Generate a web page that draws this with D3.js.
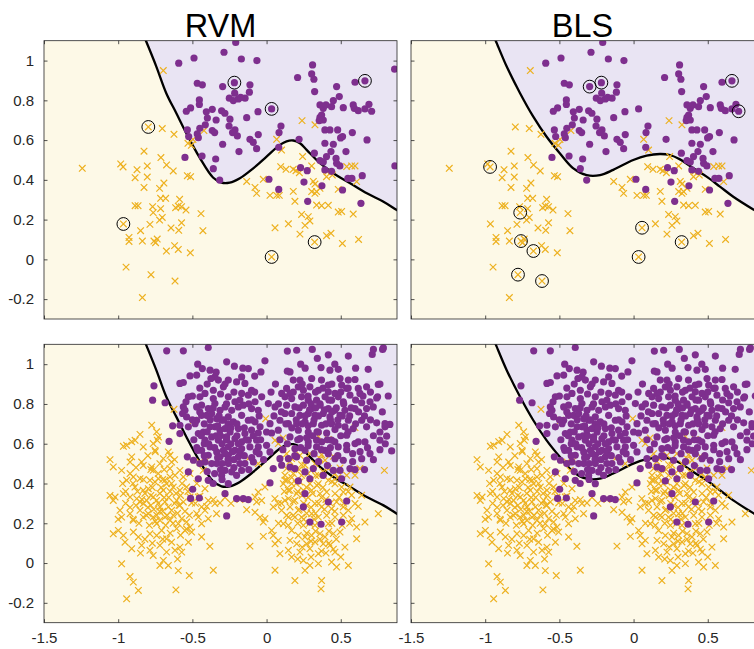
<!DOCTYPE html>
<html><head><meta charset="utf-8">
<script src="https://cdn.jsdelivr.net/npm/d3@7"></script>
<style>body{margin:0;background:#fff}svg{display:block}</style>
</head><body>
<svg id="c" width="754" height="649"></svg>
<script>
const titles = ["RVM", "BLS"];
const xTicks = [-1.5, -1, -0.5, 0, 0.5];
const yTicks = [-0.2, 0, 0.2, 0.4, 0.6, 0.8, 1];

// training set, class 0 (orange crosses)
const trainOrange = [
[-0.696,0.950],[-0.797,0.666],[-0.703,0.658],[-0.624,0.629],[-0.826,0.544],[-0.712,0.512],[-1.242,0.458],[-0.983,0.480],[-0.967,0.465],[-0.873,0.451],
[-0.804,0.470],[-0.674,0.475],[-0.629,0.445],[-0.886,0.411],[-0.804,0.414],[-0.530,0.584],[-0.496,0.603],[-0.507,0.574],[-0.422,0.648],[-0.826,0.362],
[-0.721,0.357],[-0.692,0.384],[-0.534,0.421],[-0.512,0.416],[-0.714,0.307],[-0.680,0.307],[-0.586,0.302],[-0.886,0.270],[-0.866,0.270],[-0.768,0.265],
[-0.714,0.255],[-0.613,0.260],[-0.595,0.268],[-0.573,0.265],[-0.543,0.248],[-0.764,0.235],[-0.703,0.211],[-0.721,0.198],[-0.442,0.230],[-0.965,0.178],
[-0.786,0.176],[-0.573,0.184],[-0.644,0.158],[-0.592,0.146],[-0.849,0.144],[-0.429,0.144],[-0.927,0.110],[-0.927,0.090],[-0.837,0.092],[-0.759,0.092],
[-0.737,0.102],[-0.748,0.084],[-0.620,0.069],[-0.595,0.050],[-0.675,0.042],[-0.514,0.033],[-0.947,-0.039],[-0.779,-0.077],[-0.617,-0.109],[-0.837,-0.192],
[0.239,0.698],[0.326,0.677],[0.068,0.604],[0.101,0.550],[0.243,0.517],[0.095,0.466],[0.131,0.453],[0.180,0.453],[0.198,0.446],[0.221,0.436],
[0.304,0.470],[-0.134,0.392],[-0.022,0.403],[-0.078,0.362],[-0.067,0.332],[0.023,0.322],[0.068,0.322],[0.086,0.322],[0.180,0.342],[0.191,0.292],
[0.315,0.392],[0.326,0.379],[0.304,0.341],[0.326,0.332],[0.337,0.341],[0.360,0.357],[0.404,0.416],[0.443,0.424],[0.409,0.441],[0.540,0.467],
[0.573,0.470],[0.596,0.470],[0.607,0.391],[0.483,0.352],[0.337,0.273],[0.371,0.270],[0.416,0.272],[0.236,0.226],[0.281,0.215],[0.292,0.193],
[0.259,0.171],[0.147,0.179],[0.057,0.159],[0.225,0.127],[0.324,0.087],[0.034,0.012],[0.404,0.119],[0.434,0.131],[0.511,0.080],[0.483,0.238],
[0.506,0.241],[0.584,0.228],[0.620,0.100]
];

// training set, class 1 (purple dots)
const trainPurple = [
[-0.592,0.987],[-0.489,1.013],[-0.467,0.886],[-0.433,0.878],[-0.453,0.802],[-0.453,0.779],[-0.512,0.762],[-0.541,0.745],[-0.366,0.755],[-0.406,0.742],
[-0.399,0.711],[-0.340,0.701],[-0.413,0.677],[-0.450,0.659],[-0.366,0.648],[-0.350,0.638],[-0.534,0.651],[-0.467,0.631],[-0.525,0.618],[-0.460,0.612],
[-0.435,0.520],[-0.343,0.505],[-0.550,0.513],[-0.359,0.456],[-0.316,0.399],
[-0.208,1.091],[-0.287,1.042],[-0.170,1.008],[-0.065,1.000],[0.310,0.978],[0.304,0.933],[0.319,0.906],[0.209,0.915],[-0.217,0.889],[-0.112,0.878],
[-0.296,0.869],[0.324,0.844],[-0.215,0.836],[-0.116,0.841],[-0.251,0.811],[-0.224,0.799],[-0.190,0.807],[-0.145,0.811],[-0.175,0.815],[0.034,0.757],
[-0.058,0.743],[-0.134,0.713],[-0.303,0.747],[-0.281,0.735],[-0.247,0.705],[-0.253,0.671],[-0.213,0.651],[-0.229,0.638],[-0.197,0.621],[-0.112,0.604],
[-0.090,0.589],[-0.067,0.557],[-0.056,0.628],[0.097,0.671],[0.084,0.638],[-0.296,0.579],[-0.186,0.542],[0.219,0.604],[0.082,0.564],[0.016,0.403],
[0.082,0.352],[0.277,0.292],[0.252,0.389],[0.229,0.461],[0.274,0.446],[0.373,0.370],[0.512,0.349],[0.636,0.282],[0.663,0.898],[0.596,0.891],
[0.472,0.869],[0.490,0.819],[0.450,0.799],[0.360,0.777],[0.382,0.760],[0.400,0.777],[0.438,0.768],[0.517,0.763],[0.584,0.777],[0.591,0.760],
[0.618,0.748],[0.663,0.757],[0.690,0.780],[0.708,0.745],[0.863,0.957],[0.360,0.715],[0.371,0.726],[0.382,0.701],[0.355,0.698],[0.393,0.651],
[0.427,0.651],[0.479,0.651],[0.578,0.638],[0.512,0.618],[0.499,0.611],[0.450,0.579],[0.393,0.584],[0.535,0.542],[0.677,0.601],[0.434,0.542],
[0.404,0.517],[0.468,0.508],[0.360,0.497],[0.322,0.534],[0.382,0.490],[0.472,0.483],[0.494,0.470],[0.393,0.450],[0.438,0.443],[0.548,0.407],
[0.575,0.407],[0.645,0.421],[0.865,0.470]
];

// test set, class 0 (orange crosses)
const testOrange = [
[-0.624,0.773],[-0.494,0.718],[-0.774,0.693],[-0.853,0.647],[-0.741,0.660],[-0.729,0.634],[-0.736,0.617],[-0.909,0.610],[-0.886,0.617],[-0.943,0.592],
[-0.965,0.587],[-0.831,0.584],[-0.764,0.601],[-0.752,0.567],[-0.662,0.559],[-0.651,0.542],[-0.696,0.525],[-1.055,0.520],[-1.033,0.483],[-0.909,0.534],
[-0.920,0.508],[-0.842,0.508],[-0.831,0.491],[-0.774,0.483],[-0.764,0.466],[-0.719,0.500],[-0.651,0.475],[-0.640,0.508],[-0.584,0.466],[-0.617,0.441],
[-0.561,0.433],[-0.516,0.450],[-0.977,0.466],[-0.920,0.450],[-0.898,0.433],[-0.943,0.416],[-0.853,0.424],[-0.786,0.416],[-0.752,0.408],[-0.729,0.424],
[-0.685,0.416],[-0.651,0.433],[-0.674,0.399],[-0.629,0.382],[-0.887,0.382],[-0.831,0.366],[-0.797,0.374],[-0.696,0.366],[-0.584,0.366],[-0.539,0.382],
[-1.055,0.340],[-1.021,0.332],[-1.033,0.315],[-0.965,0.349],[-0.920,0.332],[-0.875,0.324],[-0.853,0.307],[-0.831,0.299],[-0.808,0.315],[-0.764,0.332],
[-0.741,0.315],[-0.719,0.282],[-0.685,0.307],[-0.662,0.282],[-0.640,0.265],[-0.606,0.315],[-0.584,0.290],[-0.561,0.307],[-0.516,0.332],[-0.988,0.265],
[-0.977,0.231],[-0.920,0.248],[-0.898,0.215],[-0.853,0.265],[-0.831,0.231],[-0.797,0.248],[-0.764,0.231],[-0.741,0.198],[-0.719,0.215],[-0.685,0.231],
[-0.651,0.215],[-0.629,0.240],[-0.595,0.198],[-0.572,0.223],[-0.539,0.206],[-0.516,0.181],[-0.505,0.156],[-0.550,0.164],[-0.606,0.173],[-1.033,0.147],
[-0.999,0.164],[-0.965,0.139],[-0.898,0.156],[-0.864,0.131],[-0.786,0.147],[-0.741,0.139],[-0.707,0.164],[-0.674,0.122],[-0.954,0.105],[-0.909,0.072],
[-0.842,0.089],[-0.786,0.064],[-0.764,0.038],[-0.719,0.089],[-0.674,0.055],[-0.640,0.105],[-0.617,0.064],[-0.584,0.080],[-0.527,0.105],[-0.572,0.055],
[-0.696,0.013],[-0.662,-0.012],[-0.719,-0.012],[-0.595,-0.038],[-0.521,-0.063],[-0.611,-0.135],[-0.977,-0.004],[-0.920,-0.068],[-0.898,-0.096],[-0.864,-0.138],
[-0.943,-0.180],
[-0.80,0.28],[-0.78,0.34],[-0.72,0.35],[-0.70,0.26],[-0.66,0.33],[-0.76,0.27],[-0.82,0.35],[-0.74,0.24],[-0.68,0.19],[-0.88,0.29],
[-0.70,0.42],[-0.62,0.30],[-0.60,0.25],[-0.79,0.19],[-0.86,0.20],[-0.73,0.45],[-0.90,0.40],[-0.64,0.40],[-0.58,0.34],[-0.95,0.30],
[-0.95,0.36],[-0.92,0.28],[-0.90,0.22],[-0.87,0.36],[-0.84,0.32],[-0.83,0.42],[-0.81,0.24],[-0.78,0.29],[-0.77,0.38],[-0.75,0.21],
[-0.73,0.30],[-0.72,0.26],[-0.71,0.38],[-0.69,0.33],[-0.67,0.24],[-0.65,0.36],[-0.63,0.20],[-0.61,0.35],[-0.59,0.29],[-0.57,0.40],
[-0.55,0.26],[-0.53,0.36],[-0.82,0.12],[-0.77,0.10],[-0.70,0.12],[-0.65,0.15],[-0.88,0.48],[-0.80,0.54],[-0.69,0.47],[-0.62,0.52],
[-0.97,0.40],[-1.00,0.22],[-0.58,0.14],[-0.52,0.24],[-0.48,0.30],[-0.47,0.40],[-0.75,0.56],[-0.85,0.05],[-0.60,0.02],[-0.78,0.47],
[-0.006,0.726],[-0.404,0.517],[-0.449,0.508],[-0.427,0.466],[-0.123,0.525],[-0.056,0.500],[0.057,0.617],[0.079,0.601],[0.124,0.441],[0.136,0.416],
[0.113,0.399],[0.147,0.366],[-0.011,0.382],[-0.056,0.357],[-0.078,0.332],[-0.033,0.315],[-0.067,0.307],[0.056,0.324],[0.079,0.299],[0.045,0.282],
[0.101,0.265],[0.124,0.315],[0.147,0.231],[0.113,0.198],[-0.415,0.374],[-0.460,0.332],[-0.393,0.315],[-0.438,0.282],[-0.471,0.248],[-0.415,0.265],
[-0.348,0.299],[-0.337,0.248],[-0.393,0.223],[-0.438,0.198],[-0.460,0.231],[-0.438,0.131],[-0.382,0.084],[-0.359,-0.036],[-0.078,0.255],[-0.044,0.231],
[-0.011,0.223],[-0.022,0.206],[0.034,0.164],[-0.022,0.134],[0.057,0.097],[0.045,0.139],[0.079,0.114],[0.090,0.047],[0.057,-0.036],[-0.112,0.085],
[-0.505,0.302],[-0.449,0.336],[-0.404,0.285],[-0.359,0.319],[-0.314,0.302],[-0.28,0.33],[-0.24,0.30],[-0.18,0.32],[-0.134,0.268],[-0.539,0.171],
[0.596,0.681],[0.794,0.466],[0.629,0.475],[0.596,0.441],[0.641,0.341],[0.618,0.285],[0.753,0.248],[0.663,0.206],[0.135,0.550],[0.169,0.525],
[0.225,0.542],[0.292,0.550],[0.360,0.525],[0.394,0.517],[0.326,0.500],[0.259,0.492],[0.416,0.475],[0.135,0.475],[0.180,0.450],[0.236,0.441],
[0.349,0.441],[0.461,0.450],[0.540,0.441],[0.124,0.416],[0.169,0.399],[0.225,0.408],[0.292,0.399],[0.349,0.399],[0.416,0.416],[0.461,0.399],
[0.506,0.382],[0.158,0.366],[0.203,0.349],[0.248,0.366],[0.304,0.366],[0.360,0.349],[0.405,0.357],[0.461,0.349],[0.517,0.357],[0.562,0.382],
[0.573,0.341],[0.147,0.324],[0.191,0.315],[0.158,0.282],[0.214,0.265],[0.270,0.290],[0.326,0.299],[0.371,0.282],[0.438,0.273],[0.472,0.307],
[0.517,0.282],[0.551,0.265],[0.596,0.299],[0.135,0.240],[0.191,0.231],[0.236,0.231],[0.304,0.248],[0.349,0.231],[0.405,0.240],[0.461,0.231],
[0.517,0.240],[0.573,0.223],[0.607,0.181],[0.147,0.190],[0.248,0.190],[0.326,0.190],[0.416,0.198],[0.169,0.164],[0.214,0.139],[0.259,0.131],
[0.304,0.139],[0.360,0.148],[0.394,0.131],[0.450,0.148],[0.495,0.156],[0.158,0.114],[0.203,0.097],[0.270,0.097],[0.326,0.106],[0.382,0.097],
[0.427,0.089],[0.147,0.064],[0.225,0.055],[0.292,0.072],[0.349,0.047],[0.461,0.055],[0.528,0.080],[0.607,0.122],[0.169,0.030],[0.248,0.013],
[0.292,-0.012],[0.349,-0.003],[0.438,0.005],[0.472,-0.020],[0.551,-0.012],[0.259,-0.037],[0.191,-0.088],[0.371,-0.088],[0.367,-0.130],
[0.157,0.511],[0.236,0.495],[0.112,0.629],[0.349,0.637],[0.371,0.545],[0.416,0.621],[0.450,0.537],[0.495,0.478],
[0.25,0.30],[0.30,0.28],[0.28,0.33],[0.22,0.27],[0.35,0.30],[0.40,0.32],[0.32,0.22],[0.27,0.25],[0.20,0.40],[0.38,0.38],
[0.44,0.20],[0.36,0.12],[0.40,0.05],[0.30,0.03],[0.42,0.10],
[0.18,0.31],[0.21,0.36],[0.24,0.34],[0.27,0.38],[0.31,0.35],[0.34,0.39],[0.37,0.33],[0.39,0.27],[0.43,0.30],[0.46,0.26],
[0.49,0.33],[0.52,0.30],[0.55,0.36],[0.33,0.25],[0.29,0.20],[0.25,0.22],[0.21,0.20],[0.18,0.24],[0.17,0.43],[0.22,0.47],
[0.28,0.45],[0.33,0.44],[0.38,0.46],[0.44,0.41],[0.48,0.43],[0.27,0.15],[0.33,0.16],[0.42,0.16],[0.47,0.12],[0.51,0.19],
[0.56,0.20],[0.24,0.08],[0.30,0.11],[0.37,0.06],[0.45,0.07],[0.50,0.03],[0.21,0.02],[0.12,0.36],[0.10,0.30],[0.08,0.20]
];

// test set, class 1 (purple dots)
const testPurple = [
[-0.673,1.067],[-0.561,1.067],[-0.464,1.000],[-0.516,0.941],[-0.471,0.945],[-0.759,0.891],[-0.584,0.903],[-0.561,0.908],[-0.768,0.819],[-0.684,0.806],
[-0.527,0.836],[-0.543,0.811],[-0.561,0.785],[-0.550,0.768],[-0.566,0.752],[-0.539,0.735],[-0.471,0.785],[-0.471,0.718],[-0.482,0.701],[-0.633,0.690],
[-0.584,0.693],[-0.527,0.685],[-0.584,0.651],[-0.460,0.651],[-0.657,0.612],[-0.534,0.534],[-0.493,0.517],[-0.464,0.567],[-0.527,0.458],[-0.460,0.424],
[-0.498,0.371],[-0.512,0.325],[-0.453,0.327],
[-0.393,1.084],[-0.269,1.012],[-0.217,0.990],[-0.123,0.978],[-0.011,1.017],[-0.038,0.961],[-0.433,0.978],[-0.381,0.970],[-0.348,0.936],[-0.375,0.928],
[-0.325,0.920],[-0.258,0.920],[-0.291,0.886],[-0.202,0.911],[-0.168,0.936],[-0.146,0.903],[-0.101,0.869],[-0.168,0.853],[-0.123,0.844],[-0.033,0.836],
[-0.415,0.853],[-0.449,0.836],[-0.359,0.869],[-0.359,0.827],[-0.258,0.836],[-0.213,0.811],[-0.438,0.794],[-0.393,0.777],[-0.348,0.802],[-0.314,0.768],
[-0.280,0.785],[-0.235,0.768],[-0.190,0.785],[-0.157,0.794],[-0.101,0.777],[-0.078,0.811],[-0.056,0.768],[0.012,0.802],[0.057,0.785],[0.102,0.853],
[0.124,0.836],[-0.438,0.743],[-0.404,0.743],[-0.370,0.752],[-0.336,0.726],[-0.303,0.718],[-0.258,0.735],[-0.224,0.710],[-0.168,0.743],[-0.123,0.718],
[-0.078,0.710],[-0.044,0.685],[0.000,0.659],[0.023,0.701],[0.090,0.718],[0.124,0.752],[0.079,0.668],[-0.426,0.659],[-0.381,0.685],[-0.348,0.685],
[-0.314,0.668],[-0.280,0.676],[-0.246,0.659],[-0.190,0.676],[-0.146,0.651],[-0.101,0.668],[-0.056,0.654],[0.034,0.654],[-0.123,0.618],[-0.067,0.618],
[-0.370,0.634],[-0.325,0.618],[-0.269,0.634],[-0.213,0.626],[-0.168,0.609],[-0.415,0.618],[-0.438,0.567],[-0.381,0.584],[-0.336,0.559],[-0.291,0.567],
[-0.258,0.584],[-0.213,0.567],[-0.168,0.575],[-0.112,0.584],[-0.056,0.584],[0.000,0.592],[-0.393,0.542],[-0.314,0.534],[-0.258,0.542],[-0.190,0.534],
[-0.415,0.508],[-0.336,0.500],[-0.258,0.500],[-0.146,0.500],[-0.089,0.508],[-0.280,0.466],[-0.235,0.458],[-0.202,0.441],[-0.258,0.399],[-0.168,0.466],
[0.090,0.525],[0.023,0.559],[0.102,0.492],[0.045,0.475],[-0.393,0.416],[-0.303,0.441],[-0.280,0.349],[-0.202,0.324],[-0.157,0.324],[-0.123,0.319],
[0.023,0.403],[-0.269,0.237],
[0.203,1.070],[0.308,1.074],[0.416,1.047],[0.551,1.041],[0.712,1.049],[0.782,1.074],[0.342,1.029],[0.230,1.000],[0.367,0.983],[0.427,0.970],
[0.483,0.974],[0.685,0.974],[0.158,0.961],[0.180,0.920],[0.225,0.920],[0.304,0.928],[0.495,0.928],[0.551,0.920],[0.596,0.923],[0.416,0.895],
[0.506,0.895],[0.540,0.878],[0.618,0.878],[0.674,0.886],[0.764,0.900],[0.135,0.878],[0.158,0.853],[0.214,0.886],[0.248,0.869],[0.292,0.886],
[0.349,0.869],[0.416,0.861],[0.461,0.853],[0.562,0.844],[0.629,0.853],[0.748,0.836],[0.169,0.827],[0.236,0.836],[0.281,0.819],[0.337,0.819],
[0.394,0.836],[0.438,0.819],[0.483,0.836],[0.517,0.811],[0.641,0.806],[0.697,0.811],[0.719,0.785],[0.135,0.794],[0.191,0.785],[0.248,0.794],
[0.304,0.777],[0.360,0.794],[0.416,0.777],[0.461,0.768],[0.528,0.768],[0.596,0.777],[0.674,0.777],[0.169,0.752],[0.225,0.743],[0.281,0.752],
[0.326,0.743],[0.382,0.752],[0.427,0.735],[0.495,0.743],[0.551,0.718],[0.641,0.718],[0.742,0.705],[0.798,0.685],[0.147,0.701],[0.203,0.701],
[0.259,0.710],[0.315,0.701],[0.371,0.693],[0.438,0.701],[0.483,0.693],[0.214,0.668],[0.281,0.659],[0.349,0.659],[0.405,0.654],[0.461,0.671],
[0.528,0.685],[0.584,0.676],[0.674,0.685],[0.764,0.659],[0.798,0.701],[0.158,0.634],[0.225,0.626],[0.281,0.609],[0.337,0.618],[0.371,0.609],
[0.438,0.618],[0.540,0.643],[0.618,0.609],[0.663,0.609],[0.764,0.618],[0.191,0.575],[0.259,0.567],[0.337,0.584],[0.394,0.567],[0.483,0.584],
[0.540,0.592],[0.596,0.601],[0.697,0.550],[0.764,0.570],[0.843,0.564],[0.147,0.525],[0.203,0.534],[0.270,0.517],[0.416,0.550],[0.461,0.525],
[0.517,0.517],[0.641,0.525],[0.158,0.483],[0.191,0.475],[0.315,0.475],[0.450,0.466],[0.495,0.466],[0.562,0.475],[0.596,0.470],[0.259,0.458],
[0.382,0.441],[0.506,0.424],[0.292,0.424],[0.214,0.413],[0.259,0.349],[0.416,0.307],[0.540,0.312],[0.248,0.282],[0.292,0.206],[0.367,0.195],
[0.506,0.206],
[0.831,0.697],[0.809,0.638],[0.720,1.074],[0.787,1.082],[0.753,0.898],[0.742,0.830],[0.14,1.066],[0.14,0.965],[0.06,0.90],[0.03,0.86],
[0.08,0.80],[0.10,0.76],[0.05,0.74],[0.13,0.70],[0.09,0.62],[0.14,0.60],[0.11,0.57],[-0.30,0.60],[-0.28,0.55],[-0.24,0.60],
[-0.34,0.64],[-0.20,0.70],[-0.26,0.70],[-0.32,0.74],[-0.40,0.66],[-0.42,0.60],[-0.36,0.78],[-0.22,0.52],[-0.30,0.50],[-0.18,0.56],
[0.32,0.72],[0.36,0.80],[0.40,0.70],[0.30,0.80],[0.44,0.76],[0.26,0.74],[0.34,0.66],[0.28,0.69],[0.48,0.72],[0.42,0.82],
[0.22,0.78],[0.38,0.88],[0.52,0.80],[0.56,0.74],
[-0.45,0.88],[-0.40,0.90],[-0.31,0.85],[-0.27,0.80],[-0.22,0.86],[-0.18,0.82],[-0.12,0.80],[-0.08,0.86],[-0.05,0.74],[-0.10,0.72],
[-0.15,0.68],[-0.20,0.64],[-0.24,0.68],[-0.29,0.72],[-0.33,0.69],[-0.38,0.72],[-0.42,0.70],[-0.45,0.76],[-0.50,0.72],[-0.49,0.62],
[-0.44,0.64],[-0.39,0.60],[-0.35,0.58],[-0.31,0.64],[-0.27,0.62],[-0.23,0.56],[-0.19,0.60],[-0.14,0.62],[-0.09,0.64],[-0.04,0.62],
[-0.05,0.55],[-0.10,0.53],[-0.15,0.54],[-0.26,0.52],[-0.33,0.53],[-0.37,0.50],[-0.42,0.54],[-0.45,0.50],[-0.40,0.46],[-0.35,0.45],
[-0.31,0.47],[-0.22,0.48],[-0.18,0.50],[-0.12,0.47],[-0.07,0.56],[-0.02,0.52],[-0.28,0.90],[-0.34,0.96],[-0.16,0.98],[-0.08,0.94],
[-0.50,0.84],[-0.47,0.58],[-0.36,0.40],[-0.30,0.42],
[0.18,0.86],[0.24,0.90],[0.28,0.84],[0.33,0.86],[0.37,0.92],[0.44,0.90],[0.50,0.86],[0.55,0.88],[0.60,0.82],[0.65,0.84],
[0.70,0.86],[0.66,0.74],[0.60,0.70],[0.55,0.66],[0.50,0.64],[0.46,0.61],[0.41,0.62],[0.31,0.64],[0.27,0.63],[0.21,0.62],
[0.17,0.68],[0.20,0.72],[0.24,0.70],[0.29,0.77],[0.33,0.78],[0.35,0.74],[0.39,0.77],[0.43,0.72],[0.47,0.78],[0.51,0.74],
[0.57,0.78],[0.62,0.76],[0.70,0.72],[0.72,0.64],[0.68,0.58],[0.63,0.56],[0.58,0.55],[0.54,0.57],[0.48,0.54],[0.43,0.58],
[0.37,0.57],[0.32,0.55],[0.28,0.59],[0.23,0.58],[0.19,0.54],[0.35,0.51],[0.41,0.49],[0.58,0.51],[0.66,0.47],[0.72,0.52],
[0.80,0.60],[0.78,0.76],[0.82,0.84],[0.26,0.98],[0.46,1.00],[0.60,0.98]
];

// circled support / relevance vectors
const rvmSV = [[-0.797,0.666],[-0.965,0.178],[0.034,0.012],[0.324,0.087],[-0.217,0.889],[0.034,0.757],[0.663,0.898]];
const blsSV = [[-0.967,0.465],[-0.764,0.235],[-0.759,0.092],[-0.675,0.042],[-0.779,-0.077],[-0.617,-0.109],[0.057,0.159],[0.034,0.012],[0.324,0.087],[-0.296,0.869],[-0.217,0.889],[0.663,0.898],[0.708,0.745]];

// decision boundaries
const rvmBoundary = [[-0.824,1.12],[-0.811,1.096],[-0.743,0.970],[-0.676,0.836],[-0.608,0.735],[-0.541,0.635],[-0.451,0.512],[-0.361,0.412],[-0.304,0.386],[-0.248,0.386],[-0.180,0.408],[-0.090,0.458],[0,0.517],[0.090,0.576],[0.135,0.594],[0.180,0.598],[0.225,0.584],[0.270,0.551],[0.360,0.484],[0.450,0.433],[0.563,0.383],[0.676,0.332],[0.788,0.290],[0.878,0.248],[0.95,0.215]];
const blsBoundary = [[-0.941,1.12],[-0.927,1.096],[-0.855,0.970],[-0.765,0.836],[-0.676,0.718],[-0.586,0.617],[-0.496,0.533],[-0.406,0.458],[-0.316,0.424],[-0.226,0.424],[-0.137,0.450],[-0.002,0.500],[0.088,0.522],[0.178,0.530],[0.245,0.525],[0.313,0.503],[0.403,0.458],[0.492,0.416],[0.582,0.366],[0.672,0.315],[0.807,0.251],[0.95,0.19]];

const xDomain = [-1.5, 0.879], yDomain = [-0.3, 1.1];
const C = {cream:"#FDF9E7", lav:"#E9E4F3", orange:"#EDB120", purple:"#7E2F8E", axis:"#262626"};
const FONT = "'Liberation Sans', Arial, Helvetica, sans-serif";
const cols = [{x0:44, x1:397}, {x0:411, x1:764}];
const rows = [{y0:40.7, y1:319}, {y0:344.3, y1:622.7}];
const panels = [
  {c:0, r:0, orange:trainOrange, purple:trainPurple, sv:rvmSV, boundary:rvmBoundary, title:titles[0]},
  {c:1, r:0, orange:trainOrange, purple:trainPurple, sv:blsSV, boundary:blsBoundary, title:titles[1]},
  {c:0, r:1, orange:testOrange, purple:testPurple, sv:[], boundary:rvmBoundary},
  {c:1, r:1, orange:testOrange, purple:testPurple, sv:[], boundary:blsBoundary}
];

const svg = d3.select("#c");
const defs = svg.append("defs");
const fmt = d => String(d);

panels.forEach((p, i) => {
  const {x0, x1} = cols[p.c], {y0, y1} = rows[p.r];
  const x = d3.scaleLinear().domain(xDomain).range([x0, x1]);
  const y = d3.scaleLinear().domain(yDomain).range([y1, y0]);
  const cid = "clip" + i;
  defs.append("clipPath").attr("id", cid).append("rect")
    .attr("x", x0).attr("y", y0).attr("width", x1 - x0).attr("height", y1 - y0);
  const g = svg.append("g");
  const pg = g.append("g").attr("clip-path", `url(#${cid})`);
  pg.append("rect").attr("x", x0).attr("y", y0).attr("width", x1 - x0).attr("height", y1 - y0).attr("fill", C.cream);

  const line = d3.line().x(d => x(d[0])).y(d => y(d[1])).curve(d3.curveCatmullRom.alpha(0.5));
  const b = p.boundary, last = b[b.length - 1];
  const xr = x(xDomain[1] + 0.2), yt = y(yDomain[1] + 0.2);
  pg.append("path")
    .attr("d", line(b) + `L${xr},${y(last[1])}L${xr},${yt}L${x(b[0][0])},${yt}Z`)
    .attr("fill", C.lav);
  pg.append("path").attr("d", line(b)).attr("fill", "none").attr("stroke", "#000").attr("stroke-width", 2.3);

  pg.selectAll(null).data(p.orange).join("path")
    .attr("transform", d => `translate(${x(d[0])},${y(d[1])})`)
    .attr("d", "M-3.3,-3.3L3.3,3.3M-3.3,3.3L3.3,-3.3")
    .attr("stroke", C.orange).attr("stroke-width", 1.2).attr("fill", "none");
  pg.selectAll(null).data(p.purple).join("circle")
    .attr("cx", d => x(d[0])).attr("cy", d => y(d[1])).attr("r", 3.6).attr("fill", C.purple);
  pg.selectAll(null).data(p.sv).join("circle")
    .attr("cx", d => x(d[0])).attr("cy", d => y(d[1])).attr("r", 6.4)
    .attr("fill", "none").attr("stroke", "#000").attr("stroke-width", 1);

  // axes (inward ticks on all four sides)
  const showX = p.r === 1, showY = p.c === 0;
  const style = sel => {
    sel.select(".domain").remove();
    sel.attr("font-family", FONT).attr("font-size", 15).attr("color", C.axis);
    sel.selectAll("line").attr("stroke-width", 0.8);
    sel.selectAll("text").attr("fill", C.axis);
  };
  g.append("g").attr("transform", `translate(0,${y1})`)
    .call(d3.axisBottom(x).tickValues(xTicks).tickSizeInner(-3.5).tickSizeOuter(0).tickPadding(10).tickFormat(showX ? fmt : () => ""))
    .call(style);
  g.append("g").attr("transform", `translate(0,${y0})`)
    .call(d3.axisTop(x).tickValues(xTicks).tickSizeInner(-3.5).tickSizeOuter(0).tickFormat(() => ""))
    .call(style);
  g.append("g").attr("transform", `translate(${x0},0)`)
    .call(d3.axisLeft(y).tickValues(yTicks).tickSizeInner(-3.5).tickSizeOuter(0).tickPadding(10).tickFormat(showY ? fmt : () => ""))
    .call(style);
  g.append("g").attr("transform", `translate(${x1},0)`)
    .call(d3.axisRight(y).tickValues(yTicks).tickSizeInner(-3.5).tickSizeOuter(0).tickFormat(() => ""))
    .call(style);
  g.append("rect").attr("x", x0).attr("y", y0).attr("width", x1 - x0).attr("height", y1 - y0)
    .attr("fill", "none").attr("stroke", C.axis).attr("stroke-width", 0.8);

  if (p.title) {
    g.append("text").attr("x", (x0 + Math.min(x1, 754)) / 2).attr("y", 36.5)
      .attr("text-anchor", "middle").attr("font-family", FONT).attr("font-size", 32.5)
      .attr("fill", "#000").text(p.title);
  }
});
</script>
</body></html>
